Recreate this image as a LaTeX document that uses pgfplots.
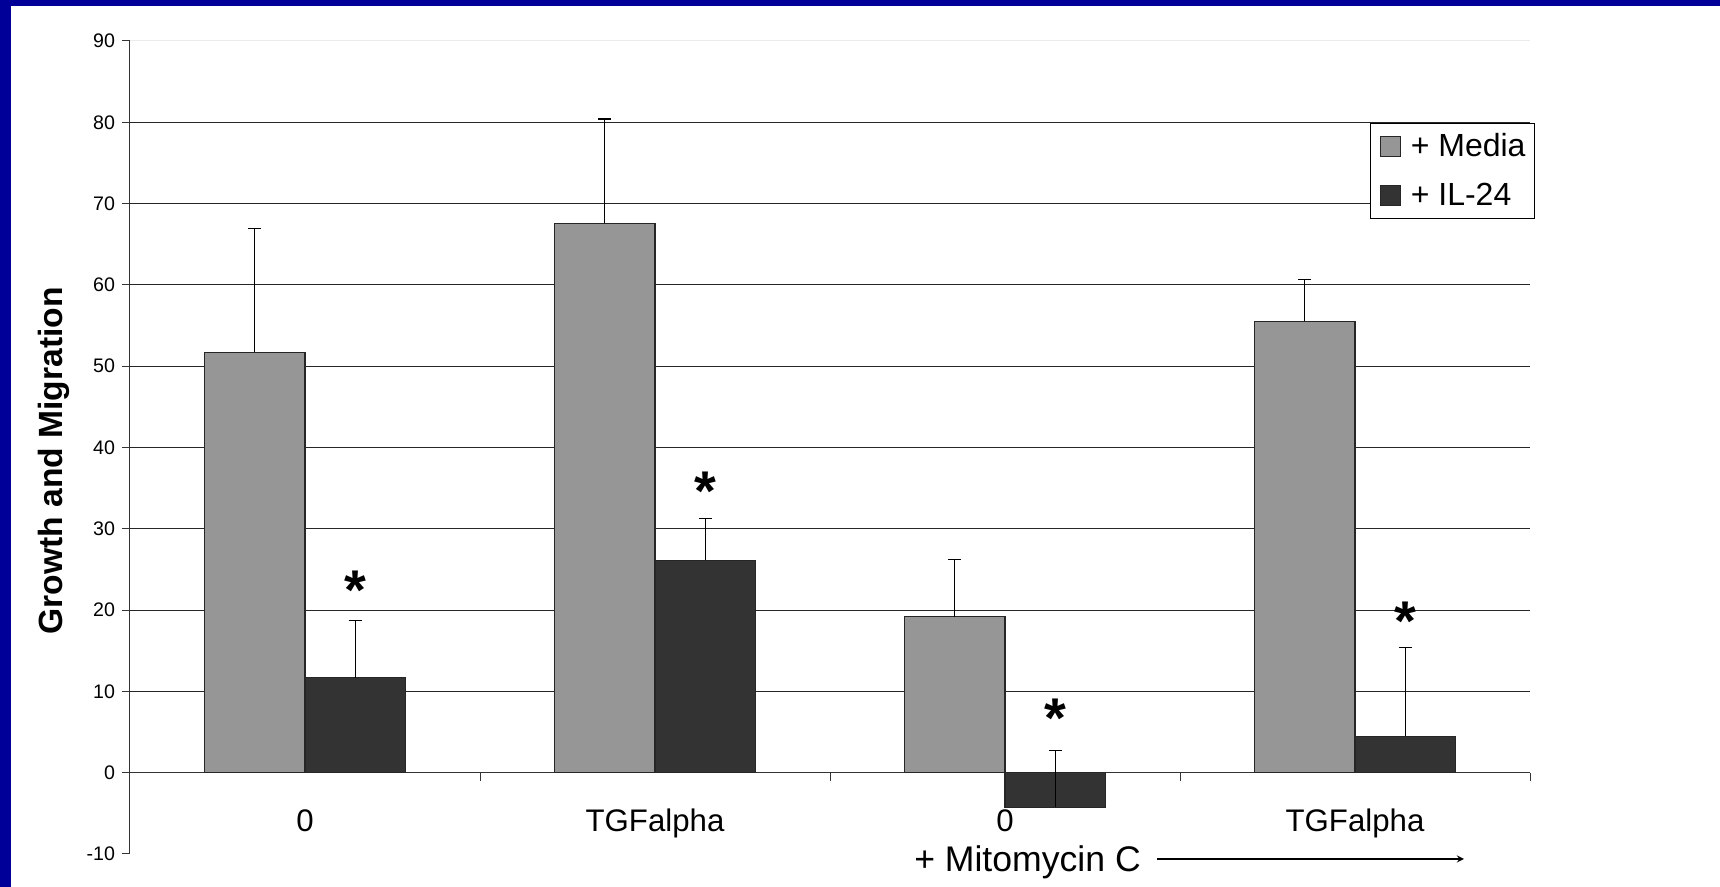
\documentclass[border=0pt]{standalone}
\usepackage{fontspec}
\setmainfont{Liberation Sans}
\usepackage{pgfplots}
\pgfplotsset{compat=1.18}
\definecolor{bgblue}{RGB}{0,0,153}
\definecolor{medgray}{RGB}{150,150,150}
\definecolor{darkbar}{RGB}{51,51,51}
\begin{document}
\begin{tikzpicture}
\path[use as bounding box] (0,0) rectangle (860pt,443.5pt);
\fill[white] (0,0) rectangle (860pt,443.5pt);
\fill[bgblue] (0,440.5pt) rectangle (860pt,443.5pt);
\fill[bgblue] (0,0) rectangle (5.5pt,443.5pt);
\begin{axis}[
  at={(65pt,16.5pt)}, anchor=south west,
  width=700pt, height=406.5pt, scale only axis,
  xmin=-0.5, xmax=3.5, ymin=-10, ymax=90,
  axis y line*=left, axis x line*=middle,
  hide obscured x ticks=false,
  axis line style={black!80, line width=0.5pt},
  ybar=0pt, bar width=50.25pt,
  xtick={-0.5,0.5,1.5,2.5,3.5},
  xticklabels={0,TGFalpha,0,TGFalpha,{}},
  xticklabel style={xshift=87.5pt, anchor=base, yshift=-25.6pt, font=\fontsize{15.6}{18}\selectfont},
  ytick={0,10,...,80},
  extra y ticks={-10,90}, extra y tick style={grid=none},
  ymajorgrids, grid style={black!85, line width=0.5pt},
  tick align=outside, major tick length=4pt,
  tick style={black!80, line width=0.5pt},
  yticklabel style={font=\fontsize{9.8}{11}\selectfont},
  /pgf/number format/assume math mode=true,
  ylabel={\textbf{Growth and Migration}},
  ylabel style={at={(axis description cs:-0.0541,0.4837)}, anchor=center, font=\fontsize{16.8}{20}\selectfont},
  legend style={at={(1.0036,0.899)}, anchor=north east, draw=black, line width=0.5pt,
    font=\fontsize{16}{19}\selectfont, row sep=7.5pt, inner xsep=2.5pt, inner ysep=3pt},
  legend cell align=left,
  legend image code/.code={\path[draw=none, fill=none] (-2.5pt,0) -- (13pt,0); \draw[#1, line width=0.5pt] (0pt,-5pt) rectangle (10pt,5pt);},
  error bars/error bar style={black, line width=0.6pt},
  error bars/error mark options={rotate=90, mark size=3.25pt, line width=0.6pt, black},
]
\draw[black!8, line width=0.5pt] (rel axis cs:0,1) -- (rel axis cs:1,1);
\addplot[fill=medgray, draw=black!85, line width=0.6pt,
  error bars/.cd, y dir=plus, y explicit]
  coordinates {(0,51.7) +- (0,15.2) (1,67.6) +- (0,12.8) (2,19.2) +- (0,7.0) (3,55.5) +- (0,5.2)};
\addlegendentry{+ Media}
\addplot[fill=darkbar, draw=black!85, line width=0.6pt,
  error bars/.cd, y dir=plus, y explicit]
  coordinates {(0,11.7) +- (0,7.0) (1,26.1) +- (0,5.2) (2,-4.25) +- (0,7.0) (3,4.5) +- (0,10.85)};
\addlegendentry{+ IL-24}
\node[anchor=base, yshift=-13pt, font=\fontsize{28}{32}\selectfont\bfseries] at (axis cs:0.1436,23.3) {*};
\node[anchor=base, yshift=-13pt, font=\fontsize{28}{32}\selectfont\bfseries] at (axis cs:1.1436,35.4) {*};
\node[anchor=base, yshift=-13pt, font=\fontsize{28}{32}\selectfont\bfseries] at (axis cs:2.1436,7.5) {*};
\node[anchor=base, yshift=-13pt, font=\fontsize{28}{32}\selectfont\bfseries] at (axis cs:3.1436,19.5) {*};
\end{axis}
\node[anchor=base, font=\fontsize{17.8}{21}\selectfont] at (513.75pt,7.65pt) {+ Mitomycin C};
\draw[-stealth, line width=0.6pt] (578.5pt,14pt) -- (732pt,14pt);
\end{tikzpicture}
\end{document}
